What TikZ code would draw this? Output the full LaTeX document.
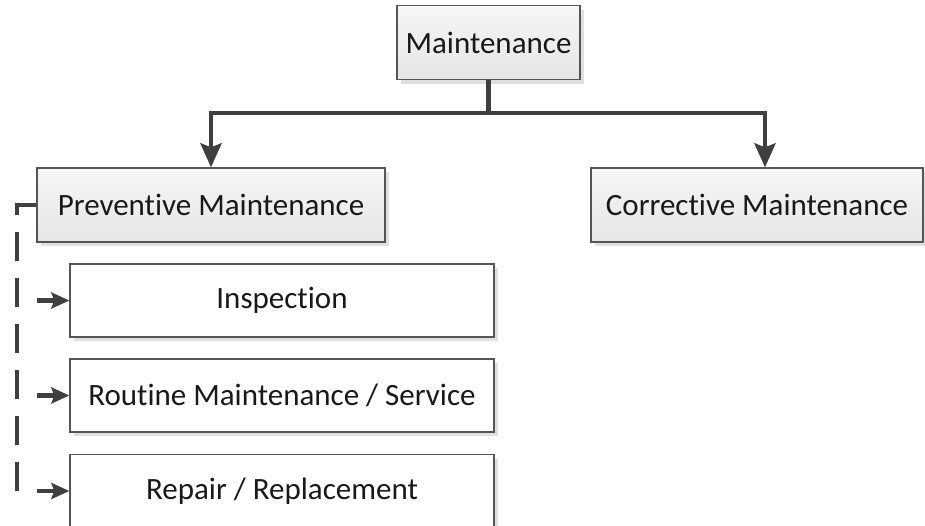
\documentclass[tikz,border=0pt]{standalone}
\usepackage{fontspec}
\setmainfont[Ligatures={NoCommon}]{Carlito}
\usetikzlibrary{shapes,arrows.meta,shadows}
\definecolor{edgegray}{HTML}{555555}
\definecolor{linegray}{HTML}{3F3F3F}
\tikzstyle{box} = [draw=edgegray, line width=1.3pt, top color=gray!7, bottom color=gray!20,
  drop shadow={shadow xshift=4pt, shadow yshift=-4pt, fill=black!12, opacity=1},
  minimum height=74pt, inner sep=0pt, text=black!90, font=\fontsize{31}{37}\selectfont]
\tikzstyle{subbox} = [box, fill=white, top color=white, bottom color=white, minimum width=424pt, minimum height=73pt]
\tikzstyle{line} = [draw=linegray, line width=4.5pt, -{Stealth[length=24pt,width=21pt,inset=4pt]}]
\tikzstyle{dashline} = [draw=linegray, line width=4.5pt, dash pattern=on 29pt off 17pt]
\tikzstyle{subline} = [draw=linegray, line width=4.5pt, -{Stealth[length=18pt,width=16pt,inset=3pt]}]

\begin{document}
\begin{tikzpicture}[x=1pt, y=-1pt]
      \clip (0,0) rectangle (925,525);

      \node[box, minimum width=183pt] (main) at (488.5, 42.5) {Maintenance};
      \node[box, minimum width=348pt] (prev) at (211, 205) {Preventive Maintenance};
      \node[box, minimum width=332pt] (corr) at (757, 205) {Corrective Maintenance};

      \node[subbox] (insp) at (282, 300.5) {Inspection};
      \node[subbox] (rout) at (282, 395.5) {Routine Maintenance / Service};
      \node[subbox] (repa) at (282, 491) {Repair / Replacement};

      \coordinate (split) at (488.5, 113);
      \coordinate (rail) at (17, 492);

      \path[line] (main.south) -- (split) -| (prev.north);
      \path[line] (split) -| ([xshift=8pt]corr.north);

      % dashed bracket to the sub tasks
      \path[dashline] (prev.west) -| (rail);
      \path[subline] ([xshift=-32pt]insp.west) -- (insp.west);
      \path[subline] ([xshift=-32pt]rout.west) -- (rout.west);
      \path[subline] ([xshift=-32pt]repa.west) -- (repa.west);
\end{tikzpicture}
\end{document}
